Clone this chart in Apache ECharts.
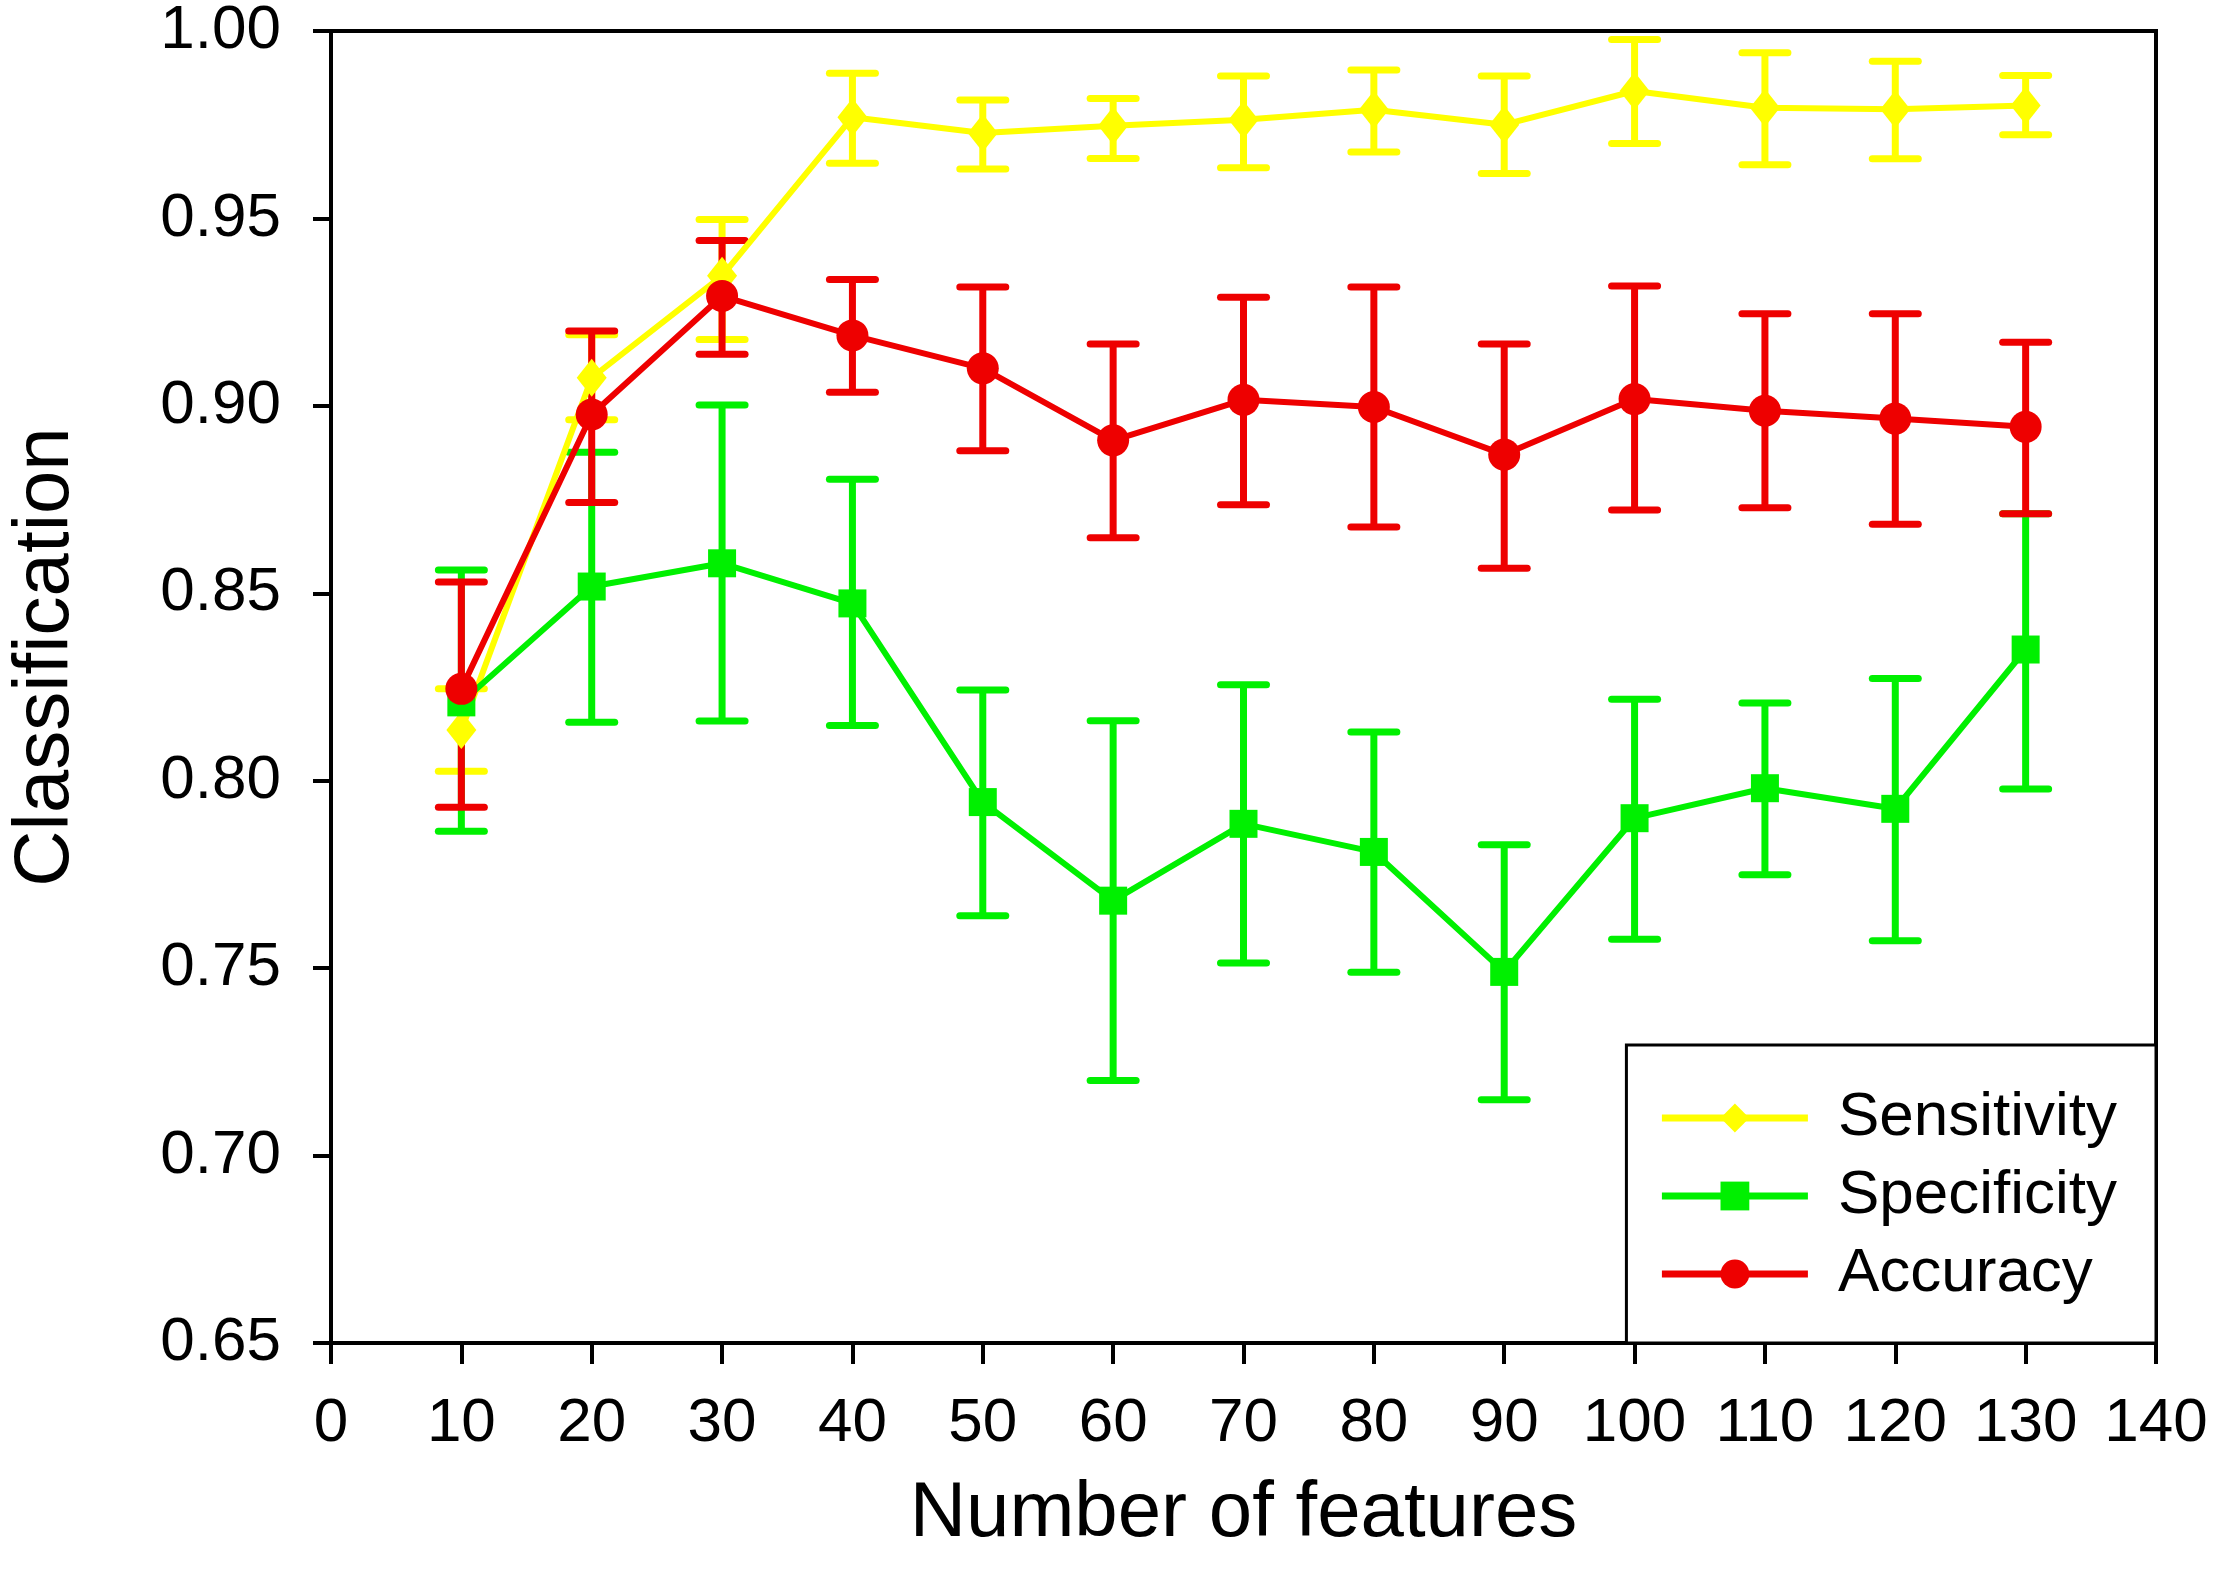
<!DOCTYPE html>
<html>
<head>
    <meta charset="utf-8" />
    <script src="https://cdn.jsdelivr.net/npm/echarts@6/dist/echarts.min.js"></script>
    <style>
        html, body { margin: 0; padding: 0; background: #fff; }
        #chart { width: 2217px; height: 1583px; }
    </style>
</head>
<body>
    <div id="chart"></div>
<script type="text/javascript">
    // number of features (x)
    var features = [10, 20, 30, 40, 50, 60, 70, 80, 90, 100, 110, 120, 130];

    var sensitivity = [0.8135, 0.9075, 0.9347, 0.9770, 0.9728, 0.9747, 0.9763, 0.9790, 0.9750, 0.9840, 0.9795, 0.9791, 0.9801];
    var sensLow     = [0.8025, 0.8963, 0.9177, 0.9647, 0.9632, 0.9660, 0.9635, 0.9677, 0.9620, 0.9700, 0.9643, 0.9659, 0.9723];
    var sensHigh    = [0.8245, 0.9190, 0.9497, 0.9887, 0.9816, 0.9820, 0.9880, 0.9896, 0.9880, 0.9977, 0.9942, 0.9919, 0.9881];

    var specificity = [0.8209, 0.8518, 0.8580, 0.8473, 0.7943, 0.7680, 0.7885, 0.7810, 0.7490, 0.7900, 0.7980, 0.7925, 0.8350];
    var specLow     = [0.7865, 0.8156, 0.8159, 0.8147, 0.7640, 0.7200, 0.7514, 0.7489, 0.7149, 0.7577, 0.7749, 0.7573, 0.7978];
    var specHigh    = [0.8562, 0.8876, 0.9002, 0.8804, 0.8242, 0.8160, 0.8256, 0.8130, 0.7829, 0.8217, 0.8207, 0.8273, 0.8712];

    var accuracy = [0.8245, 0.8977, 0.9293, 0.9188, 0.9100, 0.8908, 0.9016, 0.8997, 0.8870, 0.9018, 0.8987, 0.8966, 0.8944];
    var accLow   = [0.7929, 0.8742, 0.9138, 0.9036, 0.8880, 0.8648, 0.8736, 0.8677, 0.8567, 0.8722, 0.8728, 0.8684, 0.8712];
    var accHigh  = [0.8530, 0.9200, 0.9441, 0.9337, 0.9317, 0.9165, 0.9290, 0.9317, 0.9165, 0.9320, 0.9246, 0.9246, 0.9170];

    var FONT = '"Liberation Sans", Arial, sans-serif';
    var YELLOW = '#ffff00', GREEN = '#00f000', RED = '#ee0000';

    function pairs(xs, ys) {
        var out = [];
        for (var i = 0; i < xs.length; i++) out.push([xs[i], ys[i]]);
        return out;
    }
    function bars(xs, lo, hi) {
        var out = [];
        for (var i = 0; i < xs.length; i++) out.push([xs[i], lo[i], hi[i]]);
        return out;
    }

    function errorRender(color) {
        return function (params, api) {
            var x = api.value(0);
            var pLo = api.coord([x, api.value(1)]);
            var pHi = api.coord([x, api.value(2)]);
            var half = 23;
            var st = { stroke: color, lineWidth: 7 };
            var cap = { stroke: color, lineWidth: 7, lineCap: 'round' };
            return {
                type: 'group',
                children: [
                    { type: 'line', shape: { x1: pLo[0], y1: pLo[1], x2: pHi[0], y2: pHi[1] }, style: st },
                    { type: 'line', shape: { x1: pLo[0] - half, y1: pLo[1], x2: pLo[0] + half, y2: pLo[1] }, style: cap },
                    { type: 'line', shape: { x1: pHi[0] - half, y1: pHi[1], x2: pHi[0] + half, y2: pHi[1] }, style: cap }
                ]
            };
        };
    }

    function lineSeries(name, data, color, symbol, size) {
        return {
            name: name,
            type: 'line',
            data: data,
            symbol: symbol,
            symbolSize: size,
            showAllSymbol: true,
            lineStyle: { color: color, width: 6 },
            itemStyle: { color: color, opacity: 1 },
            emphasis: { disabled: true },
            animation: false
        };
    }
    function errSeries(data, color) {
        return {
            type: 'custom',
            data: data,
            renderItem: errorRender(color),
            silent: true,
            animation: false
        };
    }

    var chart = echarts.init(document.getElementById('chart'));
    var option = {
        backgroundColor: '#fff',
        animation: false,
        grid: {
            left: 331, top: 31, width: 1825, height: 1312,
            show: true, borderColor: '#000', borderWidth: 4, backgroundColor: 'transparent'
        },
        graphic: [{
            type: 'text',
            x: 46, y: 657,
            rotation: Math.PI / 2,
            style: {
                text: 'Classification',
                fontFamily: FONT, fontSize: 78, fill: '#000',
                align: 'center', verticalAlign: 'middle'
            }
        }],
        legend: {
            data: ['Sensitivity', 'Specificity', 'Accuracy'],
            orient: 'vertical',
            right: 61,
            bottom: 240,
            backgroundColor: '#fff',
            borderColor: '#000',
            borderWidth: 3,
            borderRadius: 0,
            padding: [42, 39, 38, 32],
            itemWidth: 146,
            itemHeight: 36,
            itemGap: 16,
            selectedMode: false,
            lineStyle: { width: 7 },
            textStyle: { fontFamily: FONT, fontSize: 62, color: '#000', padding: [0, 0, 0, 25], lineHeight: 62 }
        },
        xAxis: {
            type: 'value',
            min: 0, max: 140, interval: 10,
            name: 'Number of features',
            nameLocation: 'middle',
            nameGap: 132,
            nameTextStyle: { fontFamily: FONT, fontSize: 78, color: '#000' },
            axisLine: { show: true, lineStyle: { color: '#000', width: 4 } },
            axisTick: { show: true, inside: false, length: 21, lineStyle: { color: '#000', width: 4 } },
            axisLabel: { fontFamily: FONT, fontSize: 62, color: '#000', margin: 50 },
            splitLine: { show: false }
        },
        yAxis: {
            type: 'value',
            min: 0.65, max: 1.0, interval: 0.05,
            axisLine: { show: true, lineStyle: { color: '#000', width: 4 } },
            axisTick: { show: true, inside: false, length: 18, lineStyle: { color: '#000', width: 4 } },
            axisLabel: {
                fontFamily: FONT, fontSize: 62, color: '#000', margin: 50,
                formatter: function (v) { return v.toFixed(2); }
            },
            splitLine: { show: false }
        },
        series: [
            errSeries(bars(features, sensLow, sensHigh), YELLOW),
            lineSeries('Sensitivity', pairs(features, sensitivity), YELLOW, 'diamond', [30, 38]),
            errSeries(bars(features, specLow, specHigh), GREEN),
            lineSeries('Specificity', pairs(features, specificity), GREEN, 'rect', 28),
            errSeries(bars(features, accLow, accHigh), RED),
            lineSeries('Accuracy', pairs(features, accuracy), RED, 'circle', 32)
        ]
    };
    chart.setOption(option);
</script>
</body>
</html>
